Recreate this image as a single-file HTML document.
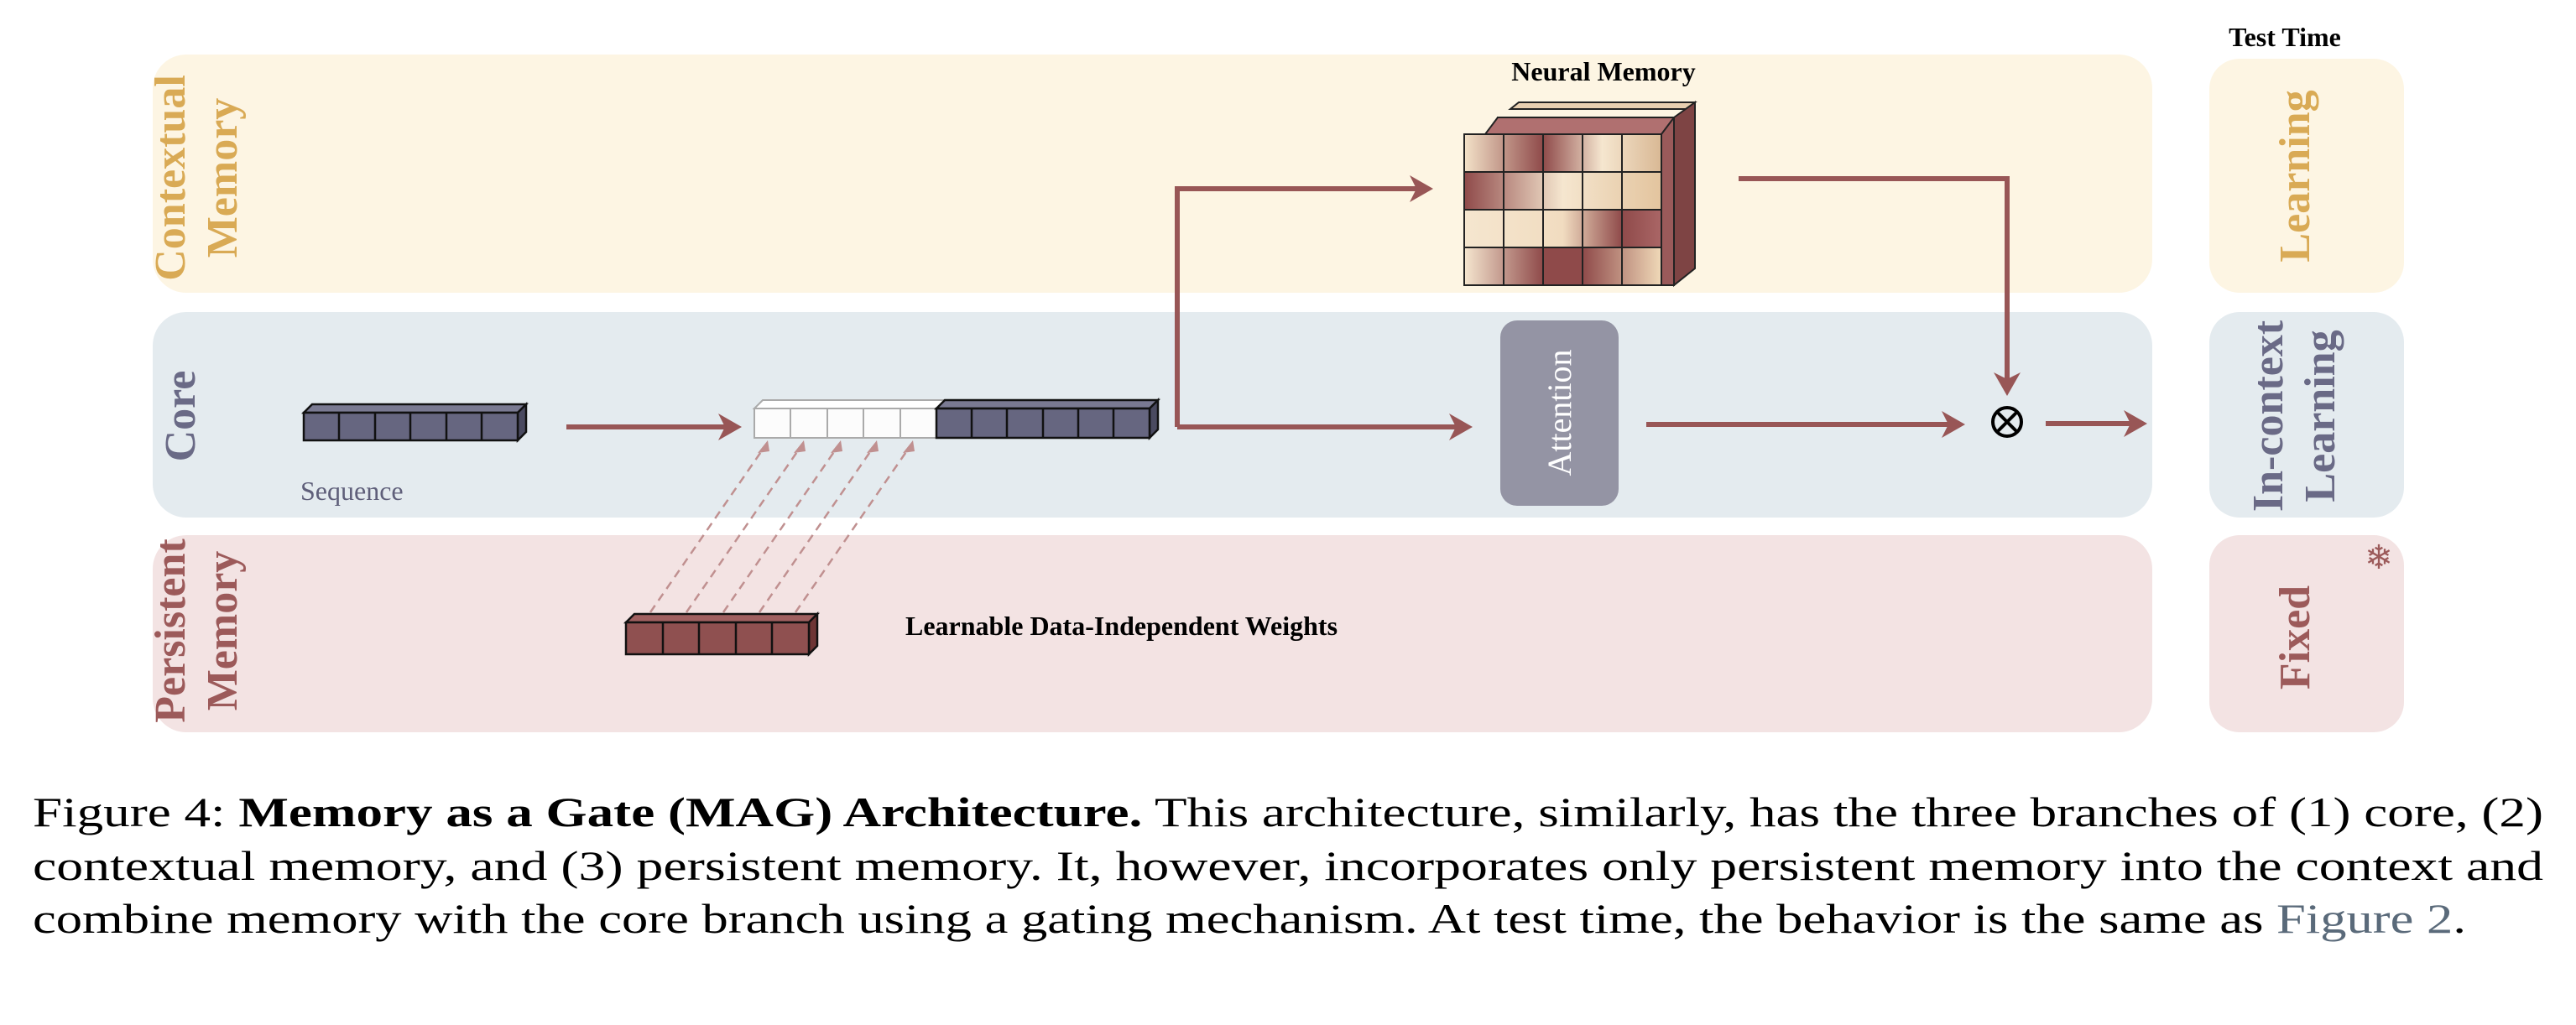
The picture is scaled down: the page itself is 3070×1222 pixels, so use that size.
<!DOCTYPE html>
<html><head><meta charset="utf-8"><style>html,body{margin:0;padding:0;background:#fff}svg{display:block}</style></head><body>
<svg width="3070" height="1222" viewBox="0 0 3070 1222" xmlns="http://www.w3.org/2000/svg" font-family="Liberation Serif, serif">
<defs>
<linearGradient id="g1" x1="0" y1="0" x2="1" y2="0"><stop offset="0" stop-color="#f3e2c8"/><stop offset="0.4" stop-color="#8f4a4a"/><stop offset="0.7" stop-color="#f5e6cf"/><stop offset="1" stop-color="#d9b894"/></linearGradient>
<linearGradient id="g2" x1="0" y1="0" x2="1" y2="0"><stop offset="0" stop-color="#8f4a4a"/><stop offset="0.5" stop-color="#f5e6cf"/><stop offset="1" stop-color="#e3c49e"/></linearGradient>
<linearGradient id="g3" x1="0" y1="0" x2="1" y2="0"><stop offset="0" stop-color="#f5e6cf"/><stop offset="0.5" stop-color="#f1dcc0"/><stop offset="0.8" stop-color="#8f4a4a"/><stop offset="1" stop-color="#a66"/></linearGradient>
<linearGradient id="g4" x1="0" y1="0" x2="1" y2="0"><stop offset="0" stop-color="#f5e6cf"/><stop offset="0.4" stop-color="#8f4a4a"/><stop offset="0.6" stop-color="#8f4a4a"/><stop offset="1" stop-color="#f0d9b8"/></linearGradient>
</defs>
<rect x="182" y="65" width="2383" height="284" rx="40" fill="#fdf5e3"/>
<rect x="182" y="372" width="2383" height="245" rx="40" fill="#e4ebef"/>
<rect x="182" y="638" width="2383" height="235" rx="40" fill="#f3e3e3"/>
<rect x="2633" y="70" width="232" height="279" rx="36" fill="#fdf5e3"/>
<rect x="2633" y="372" width="232" height="245" rx="36" fill="#e4ebef"/>
<rect x="2633" y="638" width="232" height="235" rx="36" fill="#f3e3e3"/>
<text x="2723" y="55" font-size="32" font-weight="bold" text-anchor="middle">Test Time</text>
<g font-size="52" font-weight="bold" text-anchor="middle">
<text transform="translate(220,212) rotate(-90)" fill="#d9aa55">Contextual</text>
<text transform="translate(282,212) rotate(-90)" fill="#d9aa55">Memory</text>
<text transform="translate(232,496) rotate(-90)" fill="#6a6a86">Core</text>
<text transform="translate(220,752) rotate(-90)" fill="#9c5a5a">Persistent</text>
<text transform="translate(282,752) rotate(-90)" fill="#9c5a5a">Memory</text>
<text transform="translate(2752,210) rotate(-90)" fill="#d9aa55">Learning</text>
<text transform="translate(2720,496) rotate(-90)" fill="#6a6a86">In-context</text>
<text transform="translate(2782,496) rotate(-90)" fill="#6a6a86">Learning</text>
<text transform="translate(2752,760) rotate(-90)" fill="#9c5a5a">Fixed</text>
</g>
<text x="2835" y="678" font-size="40" fill="#9c5a5a" text-anchor="middle">❄</text>
<g stroke="#111" stroke-width="2.5">
<polygon points="362,492 372,482 627,482 617,492" fill="#7a7a92"/>
<polygon points="617,492 627,482 627,515 617,525" fill="#4a4a60"/>
<rect x="362" y="492" width="255" height="33" fill="#666680"/>
<line x1="404" y1="492" x2="404" y2="525"/><line x1="447" y1="492" x2="447" y2="525"/><line x1="489" y1="492" x2="489" y2="525"/><line x1="532" y1="492" x2="532" y2="525"/><line x1="574" y1="492" x2="574" y2="525"/>
</g>
<text x="358" y="596" font-size="32" fill="#5f5f7a">Sequence</text>
<g stroke="#aaa" stroke-width="2">
<polygon points="899,487 909,477 1126,477 1116,487" fill="#fff"/>
<rect x="899" y="487" width="217" height="35" fill="#fcfcfc"/>
<line x1="942" y1="487" x2="942" y2="522"/><line x1="986" y1="487" x2="986" y2="522"/><line x1="1029" y1="487" x2="1029" y2="522"/><line x1="1073" y1="487" x2="1073" y2="522"/>
</g>
<g stroke="#111" stroke-width="2.5">
<polygon points="1116,487 1126,477 1380,477 1370,487" fill="#7a7a92"/>
<polygon points="1370,487 1380,477 1380,512 1370,522" fill="#4a4a60"/>
<rect x="1116" y="487" width="254" height="35" fill="#666680"/>
<line x1="1158" y1="487" x2="1158" y2="522"/><line x1="1200" y1="487" x2="1200" y2="522"/><line x1="1243" y1="487" x2="1243" y2="522"/><line x1="1285" y1="487" x2="1285" y2="522"/><line x1="1327" y1="487" x2="1327" y2="522"/>
</g>
<g stroke="#111" stroke-width="2.5">
<polygon points="746,742 756,732 974,732 964,742" fill="#a06060"/>
<polygon points="964,742 974,732 974,770 964,780" fill="#6e3535"/>
<rect x="746" y="742" width="218" height="38" fill="#8f5050"/>
<line x1="790" y1="742" x2="790" y2="780"/><line x1="833" y1="742" x2="833" y2="780"/><line x1="877" y1="742" x2="877" y2="780"/><line x1="920" y1="742" x2="920" y2="780"/>
</g>
<text x="1079" y="757" font-size="32" font-weight="bold">Learnable Data-Independent Weights</text>
<g stroke="#c09090" stroke-width="2.5" stroke-dasharray="10,7" fill="none">
<line x1="775" y1="730" x2="913" y2="530"/><line x1="818" y1="730" x2="956" y2="530"/><line x1="862" y1="730" x2="1000" y2="530"/><line x1="905" y1="730" x2="1043" y2="530"/><line x1="948" y1="730" x2="1086" y2="530"/>
</g>
<g fill="#c09090">
<polygon points="915,525 903,540 917,538"/><polygon points="958,525 946,540 960,538"/><polygon points="1002,525 990,540 1004,538"/><polygon points="1045,525 1033,540 1047,538"/><polygon points="1088,525 1076,540 1090,538"/>
</g>
<g stroke="#985656" stroke-width="6" fill="none">
<line x1="675" y1="509" x2="875" y2="509"/>
<polyline points="1403,509 1403,225 1698,225"/>
<line x1="1403" y1="509" x2="1745" y2="509"/>
<line x1="1962" y1="506" x2="2333" y2="506"/>
<line x1="2438" y1="505" x2="2550" y2="505"/>
<polyline points="2072,213 2392,213 2392,462"/>
</g>
<g fill="#985656">
<polygon points="884,509 856,493 864,509 856,525"/>
<polygon points="1708,225 1680,209 1688,225 1680,241"/>
<polygon points="1755,509 1727,493 1735,509 1727,525"/>
<polygon points="2342,506 2314,490 2322,506 2314,522"/>
<polygon points="2559,505 2531,489 2539,505 2531,521"/>
<polygon points="2392,472 2376,444 2392,452 2408,444"/>
</g>
<circle cx="2392" cy="503" r="17" fill="none" stroke="#000" stroke-width="4"/>
<line x1="2380" y1="491" x2="2404" y2="515" stroke="#000" stroke-width="4"/>
<line x1="2404" y1="491" x2="2380" y2="515" stroke="#000" stroke-width="4"/>
<rect x="1788" y="382" width="141" height="221" rx="20" fill="#9494a4"/>
<text transform="translate(1872,492) rotate(-90)" font-size="40" fill="#fff" text-anchor="middle">Attention</text>
<text x="1911" y="96" font-size="32" font-weight="bold" text-anchor="middle">Neural Memory</text>
<g stroke="#222" stroke-width="2">
<polygon points="1800,130 1810,122 2020,122 2010,130" fill="#e8cfb0"/>
<rect x="1785" y="140" width="210" height="200" fill="#9a5a5a"/>
<polygon points="1995,140 2020,122 2020,320 1995,340" fill="#7e4444"/>
<polygon points="1770,160 1785,140 1995,140 1980,160" fill="#b07070"/>
<rect x="1745" y="160" width="235" height="45" fill="url(#g1)"/>
<rect x="1745" y="205" width="235" height="45" fill="url(#g2)"/>
<rect x="1745" y="250" width="235" height="45" fill="url(#g3)"/>
<rect x="1745" y="295" width="235" height="45" fill="url(#g4)"/>
<line x1="1792" y1="160" x2="1792" y2="340"/><line x1="1839" y1="160" x2="1839" y2="340"/><line x1="1886" y1="160" x2="1886" y2="340"/><line x1="1933" y1="160" x2="1933" y2="340"/>
</g>
<g font-size="50" fill="#000">
<text x="39" y="985" textLength="2992" lengthAdjust="spacingAndGlyphs">Figure 4: <tspan font-weight="bold">Memory as a Gate (MAG) Architecture.</tspan> This architecture, similarly, has the three branches of (1) core, (2)</text>
<text x="39" y="1049" textLength="2992" lengthAdjust="spacingAndGlyphs">contextual memory, and (3) persistent memory. It, however, incorporates only persistent memory into the context and</text>
<text x="39" y="1112" textLength="2900" lengthAdjust="spacingAndGlyphs">combine memory with the core branch using a gating mechanism. At test time, the behavior is the same as <tspan fill="#5a6a7a">Figure 2</tspan>.</text>
</g>
</svg>
</body></html>
